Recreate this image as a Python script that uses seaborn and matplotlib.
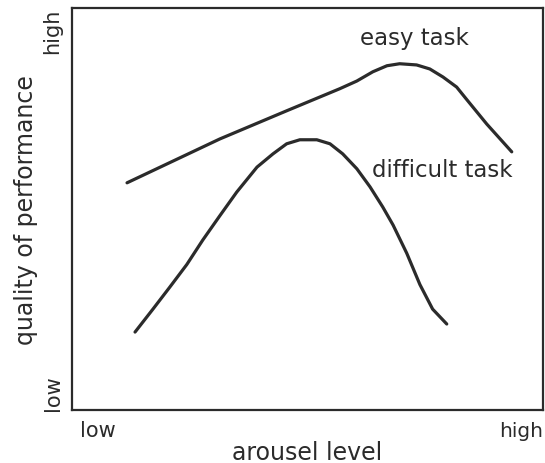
import matplotlib
matplotlib.use("Agg")
import matplotlib.pyplot as plt
import seaborn as sns
import pandas as pd

# Curve points (0 = low, 1 = high)
easy_x = [0.117, 0.314, 0.456, 0.569, 0.605, 0.639, 0.669, 0.696, 0.732, 0.760,
          0.788, 0.817, 0.837, 0.881, 0.934]
easy_y = [0.565, 0.674, 0.744, 0.799, 0.818, 0.841, 0.856, 0.861, 0.858, 0.848,
          0.828, 0.803, 0.774, 0.711, 0.642]

difficult_x = [0.134, 0.172, 0.208, 0.244, 0.278, 0.314, 0.350, 0.393, 0.427, 0.456,
               0.484, 0.520, 0.548, 0.575, 0.605, 0.633, 0.660, 0.682, 0.711, 0.739,
               0.766, 0.796]
difficult_y = [0.194, 0.251, 0.306, 0.362, 0.423, 0.483, 0.542, 0.604, 0.637, 0.662,
               0.672, 0.672, 0.662, 0.637, 0.600, 0.555, 0.505, 0.460, 0.390, 0.312,
               0.251, 0.214]

task_labels = ["easy task", "difficult task"]

curves = pd.concat([
    pd.DataFrame({"arousal": easy_x, "performance": easy_y, "task": task_labels[0]}),
    pd.DataFrame({"arousal": difficult_x, "performance": difficult_y, "task": task_labels[1]}),
])

sns.set_style("white")
plt.rcParams["font.family"] = ["DejaVu Sans"]

ink = "#2b2b2b"

fig = plt.figure(figsize=(5.45, 4.64), dpi=100)
ax = fig.add_axes([0.132, 0.114, 0.864, 0.867])

sns.lineplot(
    data=curves,
    x="arousal",
    y="performance",
    units="task",
    estimator=None,
    sort=False,
    color=ink,
    linewidth=2.3,
    legend=False,
    ax=ax)

for line in ax.lines:
    line.set_solid_capstyle("round")
    line.set_solid_joinstyle("round")

ax.set_xlim(0, 1)
ax.set_ylim(0, 1)
ax.set_xticks([])
ax.set_yticks([])
ax.set_xlabel("")
ax.set_ylabel("")

for spine in ax.spines.values():
    spine.set_color(ink)
    spine.set_linewidth(1.6)

# Curve labels
ax.text(0.611, 0.910, task_labels[0], fontsize=16.5, color=ink, ha="left", va="baseline")
ax.text(0.637, 0.582, task_labels[1], fontsize=16.5, color=ink, ha="left", va="baseline")

# Axis end labels
ax.text(0.017, -0.065, "low", fontsize=15, color=ink, ha="left", va="baseline", transform=ax.transAxes)
ax.text(1.0, -0.065, "high", fontsize=14.5, color=ink, ha="right", va="baseline", transform=ax.transAxes)
ax.text(-0.02, 0.0, "low", fontsize=15, color=ink, ha="right", va="bottom", rotation=90, transform=ax.transAxes)
ax.text(-0.02, 1.0, "high", fontsize=15, color=ink, ha="right", va="top", rotation=90, transform=ax.transAxes)

fig.text(0.563, 0.008, "arousel level", fontsize=17, color=ink, ha="center", va="baseline")
fig.text(0.047, 0.547, "quality of performance", fontsize=17, color=ink,
         ha="center", va="center", rotation=90)

fig.savefig("out.png", dpi=100)
